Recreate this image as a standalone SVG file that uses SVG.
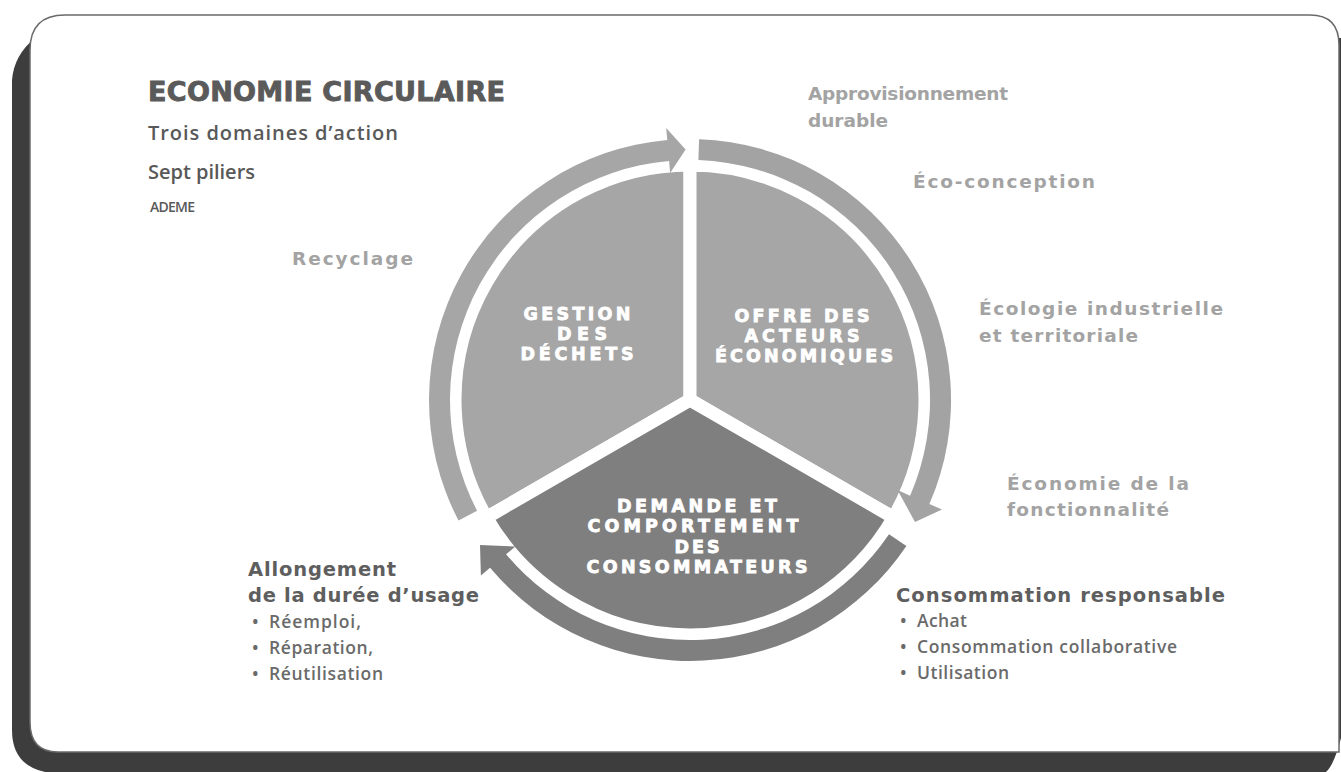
<svg xmlns="http://www.w3.org/2000/svg" width="1341" height="772" viewBox="0 0 1341 772">
<style>
.title{font-family:"DejaVu Sans",sans-serif;font-weight:bold;fill:#5a5a5a;stroke:#5a5a5a;stroke-width:0.9}
.sub{font-family:"Open Sans","Liberation Sans",sans-serif;font-weight:600;fill:#595959}
.lab{font-family:"DejaVu Sans",sans-serif;font-weight:bold;fill:#a3a3a3;font-size:18.5px}
.labd{font-family:"DejaVu Sans",sans-serif;font-weight:bold;fill:#5e5e5e;font-size:19.5px}
.bul{font-family:"Open Sans","Liberation Sans",sans-serif;font-weight:600;fill:#6a6a6a;font-size:17.5px}
.pie{font-family:"DejaVu Sans",sans-serif;font-weight:bold;fill:#ffffff;stroke:#ffffff;stroke-width:0.8;font-size:17.5px;text-anchor:middle}
.wedge{stroke:#ffffff;stroke-width:13;stroke-linejoin:round}
</style>
<rect width="1341" height="772" fill="#ffffff"/>
<g id="frame">
<path d="M12 80 Q14 55 35 38 L1341 38 L1341 738 Q1334 765 1326 772 L45 772 Q12 765 12 730 Z" fill="#3d3d3d"/>
<path d="M65 15 L1310 15 Q1339 15 1339 45 L1339 752 L58 752 Q30 752 30 722 L30 50 Q30 15 65 15 Z" fill="#ffffff" stroke="#6a6a6a" stroke-width="1.5"/>
</g>
<g id="header">
<text class="title" x="148" y="101" font-size="27" textLength="357">ECONOMIE CIRCULAIRE</text>
<text class="sub" x="148" y="140" font-size="20" textLength="250">Trois domaines d’action</text>
<text class="sub" x="148" y="179" font-size="20" textLength="107">Sept piliers</text>
<text class="sub" x="150" y="212" font-size="14" font-weight="400" textLength="45">ADEME</text>
</g>
<g id="pie-gestion">
<path class="wedge" d="M690 400 L486.5 517.5 A235 235 0 0 1 690 165 Z" fill="#a6a6a6"/>
<text class="pie" x="577" y="320" textLength="107">GESTION</text>
<text class="pie" x="582" y="340" textLength="50">DES</text>
<text class="pie" x="577" y="360" textLength="113">DÉCHETS</text>
</g>
<g id="pie-offre">
<path class="wedge" d="M690 400 L690 165 A235 235 0 0 1 893.5 517.5 Z" fill="#a6a6a6"/>
<text class="pie" x="802" y="322" textLength="135">OFFRE DES</text>
<text class="pie" x="802" y="342" textLength="115">ACTEURS</text>
<text class="pie" x="804" y="362" textLength="178">ÉCONOMIQUES</text>
</g>
<g id="pie-demande">
<path class="wedge" d="M690 400 L893.5 517.5 A235 235 0 0 1 486.5 517.5 Z" fill="#7f7f7f"/>
<text class="pie" x="697" y="512" textLength="160">DEMANDE ET</text>
<text class="pie" x="693" y="532" textLength="211">COMPORTEMENT</text>
<text class="pie" x="697" y="553" textLength="45">DES</text>
<text class="pie" x="697" y="573" textLength="221">CONSOMMATEURS</text>
</g>
<g id="connectors">
<path d="M458.5 520.5 A261 261 0 0 1 667.3 140 L666.2 128 L685.6 149.5 L670.1 172.9 L669.1 160.9 A240 240 0 0 0 477.1 510.8 Z" fill="#a6a6a6"/>
<path d="M699.1 139.2 A261 261 0 0 1 929.4 504.1 L942 509.5 L915 522 L897.5 490 L910.1 495.7 A240 240 0 0 0 698.4 160.1 Z" fill="#a3a3a3"/>
<path d="M906.4 545.9 A261 261 0 0 1 490.1 567.8 L480.9 575.5 L480 545 L515.3 546.6 L506.1 554.3 A240 240 0 0 0 889 534.2 Z" fill="#7f7f7f"/>
</g>
<g id="label-recyclage">
<text class="lab" x="292" y="265" textLength="121">Recyclage</text>
</g>
<g id="label-approvisionnement">
<text class="lab" x="808" y="100" textLength="200">Approvisionnement</text>
<text class="lab" x="808" y="127" textLength="80">durable</text>
</g>
<g id="label-eco-conception">
<text class="lab" x="913" y="188" textLength="182">Éco-conception</text>
</g>
<g id="label-ecologie">
<text class="lab" x="979" y="315" textLength="244">Écologie industrielle</text>
<text class="lab" x="979" y="342" textLength="159">et territoriale</text>
</g>
<g id="label-fonctionnalite">
<text class="lab" x="1007" y="490" textLength="182">Économie de la</text>
<text class="lab" x="1007" y="516" textLength="162">fonctionnalité</text>
</g>
<g id="label-consommation">
<text class="labd" x="896" y="602" textLength="329">Consommation responsable</text>
<text class="bul" x="900" y="627">•</text><text class="bul" x="917" y="627" textLength="50">Achat</text>
<text class="bul" x="900" y="653">•</text><text class="bul" x="917" y="653" textLength="260">Consommation collaborative</text>
<text class="bul" x="900" y="679">•</text><text class="bul" x="917" y="679" textLength="92">Utilisation</text>
</g>
<g id="label-allongement">
<text class="labd" x="248" y="576" textLength="148">Allongement</text>
<text class="labd" x="248" y="602" textLength="231">de la durée d’usage</text>
<text class="bul" x="252" y="628">•</text><text class="bul" x="269" y="628" textLength="92">Réemploi,</text>
<text class="bul" x="252" y="654">•</text><text class="bul" x="269" y="654" textLength="104">Réparation,</text>
<text class="bul" x="252" y="680">•</text><text class="bul" x="269" y="680" textLength="114">Réutilisation</text>
</g>
</svg>
